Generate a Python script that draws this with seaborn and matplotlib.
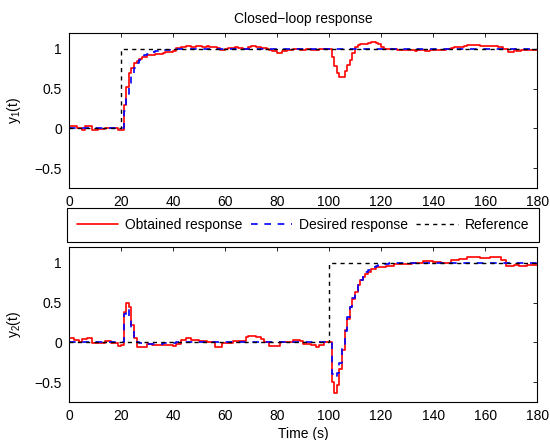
import seaborn as sns
import pandas as pd
import numpy as np
import matplotlib
matplotlib.use('Agg')
import matplotlib.pyplot as plt

# sample instants (s)
time = list(range(0, 181))

# output 1
obtained_1 = [
    0.03, 0.03, 0.03, 0.0, 0.0, -0.02, 0.03, 0.03, 0.03, -0.02,
    -0.02, -0.01, -0.01, -0.01, 0.01, 0.01, 0.0, 0.0, 0.0, -0.02,
    -0.02, 0.30, 0.52, 0.70, 0.76, 0.82, 0.85, 0.87, 0.90, 0.90,
    0.92, 0.92, 0.92, 0.94, 0.94, 0.94, 0.95, 0.96, 0.96, 0.96,
    0.97, 1.01, 1.01, 1.02, 1.02, 1.04, 1.04, 1.03, 1.03, 1.04,
    1.04, 1.03, 1.03, 1.04, 1.03, 1.02, 1.02, 1.01, 0.99, 0.99,
    1.0, 1.01, 1.01, 1.01, 1.02, 1.01, 1.01, 1.0, 1.0, 1.02,
    1.04, 1.04, 1.03, 1.03, 1.01, 1.01, 1.0, 0.98, 0.97, 0.97,
    0.95, 0.95, 0.97, 0.97, 0.98, 0.99, 1.0, 1.0, 1.0, 0.99,
    0.99, 1.0, 1.0, 0.98, 0.98, 0.99, 1.0, 1.0, 1.0, 1.0,
    1.0, 0.90, 0.78, 0.70, 0.65, 0.65, 0.72, 0.80, 0.86, 0.95,
    1.03, 1.05, 1.06, 1.06, 1.06, 1.08, 1.09, 1.09, 1.08, 1.06,
    1.03, 1.0, 1.0, 1.0, 1.0, 1.0, 0.99, 0.98, 0.98, 0.98,
    0.98, 0.98, 0.98, 0.97, 0.99, 0.99, 0.98, 0.97, 0.97, 0.98,
    0.98, 0.98, 0.98, 0.99, 0.99, 1.0, 1.0, 1.01, 1.02, 1.03,
    1.03, 1.03, 1.04, 1.05, 1.05, 1.05, 1.05, 1.05, 1.04, 1.04,
    1.04, 1.04, 1.04, 1.04, 1.04, 1.03, 1.02, 1.0, 1.0, 0.96,
    0.96, 1.0, 0.97, 0.97, 0.99, 0.99, 0.98, 0.99, 0.99, 0.99,
    0.99,
]
desired_1 = ([0.0] * 21 +
             [0.22, 0.42, 0.57, 0.68, 0.76, 0.82, 0.86, 0.89, 0.92, 0.94,
              0.95, 0.96, 0.97, 0.975, 0.98, 0.985, 0.99, 0.99, 0.995, 1.0] +
             [1.0] * 140)
reference_1 = [0.0] * 20 + [1.0] * 161

# output 2
obtained_2 = [
    0.05, 0.05, 0.03, 0.03, 0.0, 0.045, 0.045, 0.06, 0.06, -0.01,
    -0.01, -0.01, -0.01, -0.01, 0.02, 0.02, -0.01, -0.01, -0.01, -0.04,
    -0.03, 0.38, 0.49, 0.45, 0.22, 0.05, -0.06, -0.06, -0.06, -0.06,
    -0.02, -0.02, -0.03, -0.03, -0.03, -0.03, -0.03, -0.03, -0.03, -0.03,
    -0.05, -0.02, -0.02, 0.03, 0.03, 0.05, 0.05, 0.03, 0.03, 0.03,
    0.02, 0.02, 0.02, 0.0, 0.0, 0.0, -0.06, -0.06, -0.06, -0.01,
    -0.01, -0.01, -0.01, 0.02, 0.02, 0.02, 0.02, 0.02, 0.07, 0.075,
    0.075, 0.075, 0.07, 0.07, 0.04, 0.0, 0.0, -0.04, -0.04, -0.04,
    -0.04, 0.01, 0.01, 0.01, 0.01, 0.01, 0.03, 0.03, 0.03, 0.02,
    -0.02, -0.02, -0.02, -0.03, -0.03, -0.06, -0.03, -0.03, 0.0, 0.0,
    0.0, -0.50, -0.64, -0.54, -0.34, -0.09, 0.16, 0.30, 0.45, 0.55,
    0.635, 0.72, 0.78, 0.82, 0.86, 0.89, 0.925, 0.925, 0.945, 0.945,
    0.945, 0.945, 0.96, 0.96, 0.96, 0.99, 0.99, 0.99, 0.98, 0.98,
    0.98, 0.98, 1.0, 1.0, 1.0, 1.0, 1.02, 1.02, 1.02, 1.02,
    1.01, 1.01, 1.01, 1.0, 1.0, 1.0, 1.0, 1.03, 1.03, 1.03,
    1.05, 1.05, 1.05, 1.08, 1.08, 1.08, 1.08, 1.08, 1.06, 1.06,
    1.06, 1.06, 1.08, 1.08, 1.08, 1.08, 1.03, 1.03, 0.96, 0.96,
    0.96, 0.975, 0.975, 0.96, 0.96, 0.96, 0.975, 0.975, 0.975, 0.975,
    0.975,
]
desired_2 = ([0.0] * 21 +
             [0.36, 0.42, 0.32, 0.165, 0.05, 0.01, -0.01, -0.02, -0.02, -0.02,
              -0.015, -0.015, -0.015, -0.015, -0.015, -0.01, -0.01, -0.01, -0.01, -0.01] +
             [0.0] * 60 +
             [-0.40, -0.44, -0.39, -0.26, -0.07, 0.14, 0.32, 0.45, 0.56, 0.65,
              0.73, 0.79, 0.84, 0.88, 0.91, 0.935, 0.95, 0.965, 0.975, 0.98,
              0.985, 0.99, 0.995, 0.995, 1.0] +
             [1.0] * 55)
reference_2 = [0.0] * 100 + [1.0] * 81

series_names = ['Obtained response', 'Desired response', 'Reference']
y_labels = [r'y$_{\mathrm{1}}$(t)', r'y$_{\mathrm{2}}$(t)']
x_ticks = [0, 20, 40, 60, 80, 100, 120, 140, 160, 180]
y_ticks = [-0.5, 0, 0.5, 1]
y_tick_labels = ['\u22120.5', '0', '0.5', '1']

sns.set_theme(style='white')
plt.rcParams['font.family'] = ['Liberation Sans', 'DejaVu Sans']
plt.rcParams.update({
    'font.size': 10,
    'mathtext.fontset': 'custom',
    'mathtext.rm': 'Liberation Sans',
    'mathtext.it': 'Liberation Sans:italic',
    'xtick.direction': 'in',
    'ytick.direction': 'in',
    'xtick.top': True,
    'ytick.right': True,
    'xtick.major.size': 3,
    'ytick.major.size': 3,
    'xtick.major.width': 0.6,
    'ytick.major.width': 0.6,
    'xtick.color': 'black',
    'ytick.color': 'black',
    'axes.edgecolor': 'black',
    'axes.linewidth': 0.8,
    'text.color': 'black',
    'axes.labelcolor': 'black',
})

fig = plt.figure(figsize=(5.5, 4.4), dpi=100)
ax1 = fig.add_axes([0.1255, 0.5727, 0.851, 0.3523])
ax2 = fig.add_axes([0.1255, 0.0864, 0.851, 0.3523])

styles = [
    dict(color='#ff0000', linewidth=1.2, linestyle='-'),
    dict(color='#0000ff', linewidth=1.2, linestyle=(0, (4, 4))),
    dict(color='black', linewidth=1.0, linestyle=(0, (3, 3))),
]

for ax, data, ylab in [(ax1, [obtained_1, desired_1, reference_1], y_labels[0]),
                       (ax2, [obtained_2, desired_2, reference_2], y_labels[1])]:
    for name, values, st in zip(series_names, data, styles):
        df = pd.DataFrame({'t': time, 'y': values})
        sns.lineplot(data=df, x='t', y='y', ax=ax, drawstyle='steps-post',
                     label=name, legend=False, **st)
    ax.set_xlim(0, 180)
    ax.set_ylim(-0.75, 1.2)
    ax.set_xticks(x_ticks)
    ax.set_yticks(y_ticks)
    ax.set_yticklabels(y_tick_labels)
    ax.tick_params(axis='both', labelsize=10, pad=5)
    ax.set_ylabel(ylab, fontsize=10)
    ax.yaxis.set_label_coords(-0.098, 0.5)
    ax.set_xlabel('')
    for sp in ax.spines.values():
        sp.set_visible(True)
        sp.set_color('black')

ax1.set_title('Closed\u2212loop response', fontsize=10, pad=7)
ax2.set_xlabel('Time (s)', fontsize=10, labelpad=3)

handles, labels = ax1.get_legend_handles_labels()
leg = fig.legend(handles, labels, loc='center', ncol=3, mode='expand',
                 bbox_to_anchor=(0.1218, 0.4523, 0.858, 0.0727),
                 borderaxespad=0.0,
                 frameon=True, fancybox=False, framealpha=1,
                 edgecolor='black', handlelength=3.0, handletextpad=0.5,
                 columnspacing=0.5, borderpad=0.7, fontsize=10)
leg.get_frame().set_linewidth(0.8)

fig.savefig('out.png', dpi=100)
